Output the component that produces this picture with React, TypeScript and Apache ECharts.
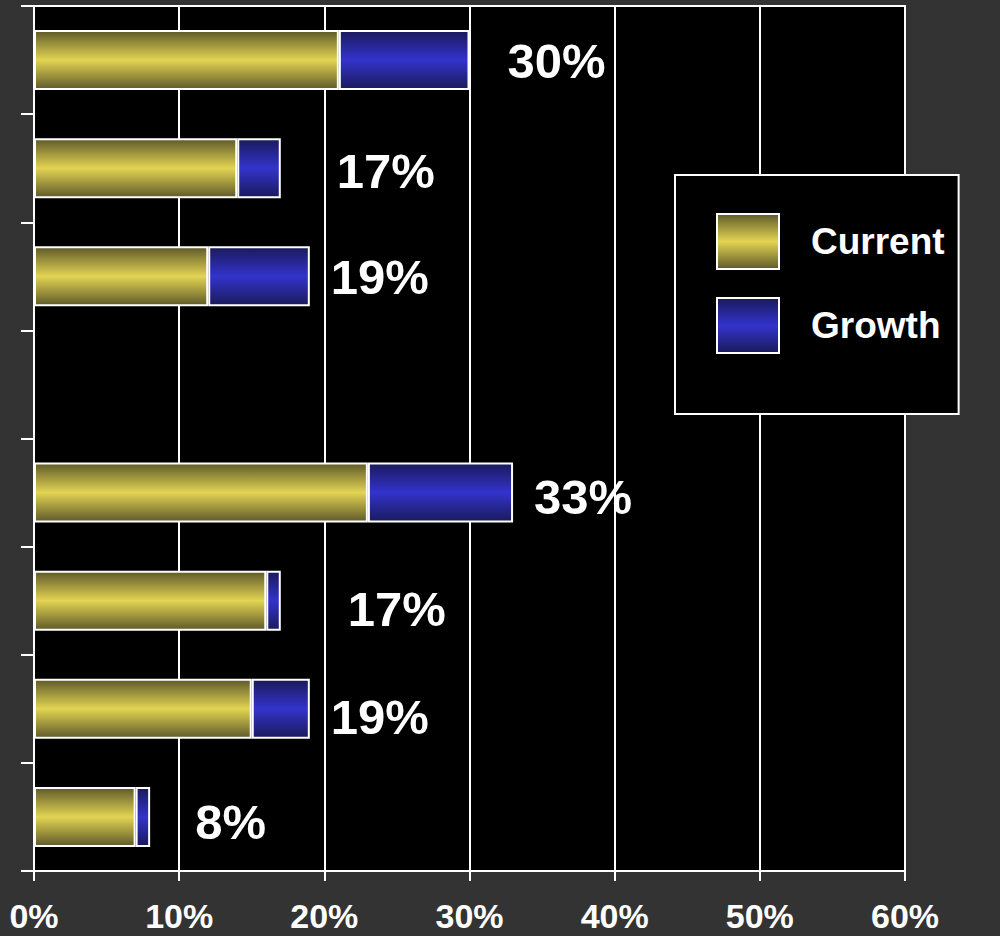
import React, { useEffect, useRef } from "react";
import * as echarts from "echarts";

const categories = ["Row 1", "Row 2", "Row 3", "Row 4", "Row 5", "Row 6", "Row 7", "Row 8"];
const currentValues: (number | null)[] = [21, 14, 12, null, 23, 16, 15, 7];
const growthValues: (number | null)[] = [9, 3, 7, null, 10, 1, 4, 1];
const totalLabels: (number | null)[] = [30, 17, 19, null, 33, 17, 19, 8];
const xTicks = [0, 10, 20, 30, 40, 50, 60];
// label offsets from the end of each bar [dx, dy]
const labelOffsets: [number, number][] = [
  [1, 1], [19, 3], [-16, 1], [0, 0], [-16, 4], [30, 8], [-16, 8], [8, 5],
];

const FONT = "'Liberation Sans', Arial, sans-serif";

const yellowGrad = new echarts.graphic.LinearGradient(0, 0, 0, 1, [
  { offset: 0, color: "#5f5a2a" },
  { offset: 0.5, color: "#e3d453" },
  { offset: 1, color: "#5f5a2a" },
]);
const blueGrad = new echarts.graphic.LinearGradient(0, 0, 0, 1, [
  { offset: 0, color: "#1a1a5c" },
  { offset: 0.5, color: "#3333cc" },
  { offset: 1, color: "#1a1a5c" },
]);

export default function App() {
  const ref = useRef<HTMLDivElement>(null);
  useEffect(() => {
    if (!ref.current) return;
    const chart = echarts.init(ref.current, null, { renderer: "svg" });
    chart.setOption({
      animation: false,
      backgroundColor: "#333333",
      grid: {
        left: 34,
        right: 95,
        top: 6,
        bottom: 65,
        show: true,
        backgroundColor: "#000000",
        borderColor: "#ffffff",
        borderWidth: 2,
      },
      legend: {
        orient: "vertical",
        left: 675,
        top: 175,
        padding: [38, 14, 60, 41],
        itemWidth: 62,
        itemHeight: 55,
        itemGap: 27,
        backgroundColor: "#000000",
        borderColor: "#ffffff",
        borderWidth: 2,
        icon: "rect",
        itemStyle: { borderColor: "#ffffff", borderWidth: 2 },
        textStyle: {
          color: "#ffffff",
          fontSize: 37,
          fontWeight: "bold",
          fontFamily: FONT,
          padding: [0, 0, 0, 27],
        },
        data: ["Current", "Growth"],
      },
      xAxis: {
        type: "value",
        min: 0,
        max: 60,
        interval: 10,
        axisLine: { show: true, lineStyle: { color: "#ffffff", width: 2 } },
        axisTick: { show: true, length: 10, lineStyle: { color: "#ffffff", width: 2 } },
        splitLine: { show: true, lineStyle: { color: "#ffffff", width: 2 } },
        axisLabel: {
          color: "#ffffff",
          fontSize: 34,
          lineHeight: 34,
          fontWeight: "bold",
          fontFamily: FONT,
          margin: 28,
          formatter: (v: number) => (xTicks.includes(v) ? v + "%" : ""),
        },
      },
      yAxis: {
        type: "category",
        inverse: true,
        data: categories,
        axisLine: { show: true, lineStyle: { color: "#ffffff", width: 2 } },
        axisTick: { show: true, length: 13, lineStyle: { color: "#ffffff", width: 2 } },
        axisLabel: { show: false },
        splitLine: { show: false },
      },
      series: [
        {
          name: "Current",
          type: "bar",
          stack: "total",
          barWidth: 60,
          data: currentValues.map((v) => (v == null ? "-" : v)),
          itemStyle: { color: yellowGrad, borderColor: "#ffffff", borderWidth: 2 },
        },
        {
          name: "Growth",
          type: "bar",
          stack: "total",
          barWidth: 60,
          data: growthValues.map((v, i) =>
            v == null
              ? "-"
              : {
                  value: v,
                  label: { offset: labelOffsets[i] },
                }
          ),
          itemStyle: { color: blueGrad, borderColor: "#ffffff", borderWidth: 2 },
          label: {
            show: true,
            position: "right",
            distance: 37,
            color: "#ffffff",
            fontSize: 49,
            fontWeight: "bold",
            fontFamily: FONT,
            formatter: (p: any) => (totalLabels[p.dataIndex] == null ? "" : totalLabels[p.dataIndex] + "%"),
          },
        },
      ],
    });
    return () => chart.dispose();
  }, []);
  return <div ref={ref} style={{ width: 1000, height: 936, position: "absolute", left: 0, top: 0 }} />;
}
